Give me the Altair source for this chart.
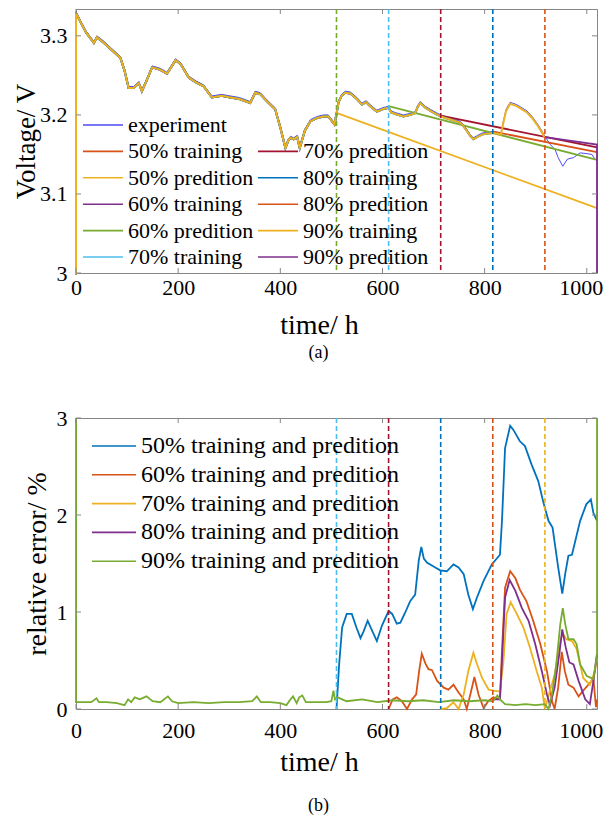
import altair as alt
import pandas as pd

FONT = "Liberation Serif, Times New Roman, serif"

# ---------------- data: panel (a) ----------------
exp_t = [0, 10, 20, 35, 41, 55, 70, 87, 95, 103,
         113, 123, 129, 138, 149, 165, 178, 187, 195, 205,
         221, 235, 250, 266, 285, 302, 320, 341, 351, 361,
         374, 390, 400, 410, 416, 420, 426, 433, 438, 448,
         459, 472, 485, 494, 506, 510, 514, 520, 527, 537,
         550, 560, 568, 576, 589, 600, 612, 617, 625, 641,
         655, 664, 669, 674, 684, 694, 705, 714, 723, 733,
         743, 752, 758, 765, 772, 778, 786, 795, 803, 816,
         826, 832, 836, 842, 850, 863, 873, 883, 893, 902,
         910, 918, 928, 938, 944, 953, 962, 974, 987, 1000,
         1010, 1016, 1020]
exp_v = [3.331, 3.318, 3.306, 3.293, 3.300, 3.293, 3.284, 3.274, 3.258, 3.236,
         3.236, 3.242, 3.232, 3.245, 3.262, 3.259, 3.254, 3.263, 3.271, 3.266,
         3.249, 3.243, 3.238, 3.224, 3.226, 3.224, 3.222, 3.217, 3.230, 3.228,
         3.219, 3.209, 3.186, 3.160, 3.170, 3.173, 3.171, 3.174, 3.160, 3.182,
         3.194, 3.198, 3.200, 3.200, 3.190, 3.203, 3.218, 3.226, 3.230, 3.229,
         3.222, 3.215, 3.218, 3.213, 3.206, 3.209, 3.211, 3.205, 3.203, 3.200,
         3.202, 3.204, 3.212, 3.217, 3.211, 3.207, 3.203, 3.200, 3.198, 3.196,
         3.194, 3.192, 3.188, 3.182, 3.175, 3.171, 3.174, 3.177, 3.178, 3.179,
         3.178, 3.177, 3.190, 3.207, 3.216, 3.213, 3.209, 3.205, 3.198, 3.190,
         3.182, 3.173, 3.163, 3.156, 3.146, 3.135, 3.144, 3.146, 3.152, 3.151,
         3.150, 3.144, 3.143]

pcts = ["50%", "60%", "70%", "80%", "90%"]
splits = [510, 612, 714, 816, 918]
t_end = 1020
train_first_v = 3.0
pred_start_v = [3.2025, 3.211, 3.199, 3.179, 3.172]
pred_end_v = [3.082, 3.143, 3.159, 3.153, 3.1625]
pred90_drop_v = 3.0

exp_color = "#4b4bf5"
train_colors = ["#D95319", "#7E2F8E", "#4DBEEE", "#0072BD", "#EDB120"]
pred_colors = ["#EDB120", "#77AC30", "#A2142F", "#D95319", "#7E2F8E"]
top_vline_colors = ["#77AC30", "#4DBEEE", "#A2142F", "#0072BD", "#D95319"]
bot_vline_colors = ["#4DBEEE", "#A2142F", "#0072BD", "#D95319", "#EDB120"]

# ---------------- data: panel (b) ----------------
b50_t = [510, 515, 521, 530, 540, 549, 557, 563, 571, 577,
         589, 599, 612, 619, 628, 635, 645, 654, 664, 671,
         676, 681, 687, 700, 713, 726, 739, 749, 759, 768,
         777, 785, 798, 814, 830, 834, 840, 850, 856, 869,
         879, 892, 905, 915, 925, 933, 944, 952, 958, 964,
         971, 987, 999, 1008, 1013, 1020]
b50_e = [0.0, 0.45, 0.84, 0.98, 0.98, 0.84, 0.73, 0.80, 0.91, 0.84,
         0.70, 0.86, 1.01, 0.98, 0.88, 0.89, 1.00, 1.11, 1.18, 1.53,
         1.67, 1.55, 1.51, 1.47, 1.43, 1.42, 1.49, 1.46, 1.39, 1.18,
         1.03, 1.15, 1.32, 1.49, 1.59, 1.94, 2.69, 2.92, 2.88, 2.76,
         2.71, 2.52, 2.35, 2.13, 1.94, 1.87, 1.46, 1.19, 1.40, 1.58,
         1.59, 1.94, 2.11, 2.16, 2.02, 1.94]
b60_t = [612, 620, 628, 638, 648, 658, 666, 672, 677, 684,
         690, 697, 707, 720, 729, 739, 749, 759, 765, 772,
         780, 788, 798, 807, 817, 830, 834, 840, 850, 860,
         869, 882, 895, 909, 922, 932, 937, 944, 951, 957,
         964, 974, 984, 993, 1003, 1013, 1018, 1020]
b60_e = [0.0, 0.10, 0.12, 0.08, 0.0, 0.10, 0.15, 0.40, 0.57, 0.47,
         0.41, 0.40, 0.29, 0.22, 0.20, 0.25, 0.17, 0.10, 0.0, 0.15,
         0.33, 0.15, 0.01, 0.08, 0.12, 0.10, 0.60, 1.25, 1.42, 1.35,
         1.23, 1.11, 0.91, 0.67, 0.39, 0.08, 0.0, 0.22, 0.59, 0.39,
         0.25, 0.22, 0.13, 0.19, 0.25, 0.31, 0.02, 0.10]
b70_t = [714, 726, 739, 749, 759, 768, 778, 784, 795, 808,
         817, 830, 837, 843, 851, 863, 876, 889, 902, 912,
         918, 928, 937, 948, 953, 960, 971, 980, 993, 1006,
         1016, 1020]
b70_e = [0.0, 0.01, 0.07, 0.0, 0.15, 0.39, 0.58, 0.48, 0.32, 0.20,
         0.19, 0.18, 0.50, 0.98, 1.10, 0.98, 0.84, 0.63, 0.39, 0.22,
         0.0, 0.19, 0.35, 0.70, 0.78, 0.72, 0.70, 0.62, 0.32, 0.25,
         0.39, 0.53]
b80_t = [816, 830, 834, 840, 849, 860, 873, 886, 899, 912,
         922, 928, 937, 947, 952, 959, 966, 974, 984, 997,
         1006, 1013, 1020]
b80_e = [0.10, 0.10, 0.50, 1.15, 1.33, 1.22, 1.04, 0.91, 0.67, 0.39,
         0.15, 0.04, 0.22, 0.60, 0.82, 0.63, 0.48, 0.46, 0.29, 0.10,
         0.05, 0.29, 0.57]
b90_t = [0, 0, 10, 30, 40, 45, 60, 80, 95, 102,
         108, 115, 125, 138, 150, 165, 180, 188, 200, 230,
         260, 290, 320, 345, 354, 362, 380, 400, 412, 420,
         425, 432, 437, 443, 450, 470, 490, 500, 504, 507,
         512, 530, 560, 590, 620, 650, 680, 710, 740, 770,
         800, 816, 825, 830, 840, 860, 880, 900, 918, 925,
         932, 940, 948, 953, 958, 964, 974, 980, 987, 1000,
         1013, 1020, 1020]
b90_e = [3.0, 0.07, 0.07, 0.07, 0.11, 0.07, 0.07, 0.06, 0.04, 0.10,
         0.07, 0.12, 0.10, 0.13, 0.08, 0.07, 0.13, 0.08, 0.06, 0.07,
         0.06, 0.07, 0.07, 0.08, 0.13, 0.07, 0.07, 0.06, 0.04, 0.10,
         0.13, 0.06, 0.12, 0.14, 0.07, 0.07, 0.07, 0.08, 0.19, 0.10,
         0.12, 0.08, 0.10, 0.07, 0.09, 0.08, 0.09, 0.07, 0.09, 0.08,
         0.09, 0.08, 0.14, 0.10, 0.05, 0.04, 0.05, 0.04, 0.05, 0.0,
         0.15, 0.45, 0.87, 1.04, 0.87, 0.72, 0.72, 0.67, 0.46, 0.34,
         0.31, 0.56, 3.0]
bot_series_t = [b50_t, b60_t, b70_t, b80_t, b90_t]
bot_series_e = [b50_e, b60_e, b70_e, b80_e, b90_e]
bot_names = [p + " training and predition" for p in pcts]
bot_colors = ["#0072BD", "#D95319", "#EDB120", "#7E2F8E", "#77AC30"]

x_ticks = [0, 200, 400, 600, 800, 1000]
top_y_ticks = [3.0, 3.1, 3.2, 3.3]
bot_y_ticks = [0, 1, 2, 3]

# ---------------- layout constants ----------------
W = 521
H_TOP = 264
H_BOT = 291
FRAME = "#868686"
TICK = 5


def sdf(ts, vs, name, col="v"):
    return pd.DataFrame({"t": ts, col: vs, "series": name, "i": list(range(len(ts)))})


x_scale = alt.Scale(domain=[0, t_end], nice=False, zero=False)


def x_enc(label_pad, title_y):
    return alt.X("t:Q", scale=x_scale,
                 axis=alt.Axis(values=x_ticks, format="d", title="time/ h", labelFlush=False,
                               labelPadding=label_pad, titleX=243, titleY=title_y,
                               titleBaseline="alphabetic",
                               labelOffset={"condition": {"test": "datum.value == 1000",
                                                          "value": -6},
                                            "value": 0}))


def tick_layers(xe, ye, yfield, ydf, h):
    xt = pd.DataFrame({"t": x_ticks})
    yt = pd.DataFrame({yfield: ydf})
    st = dict(color=FRAME, strokeWidth=1)
    return [
        alt.Chart(xt).mark_rule(**st).encode(x=xe, y=alt.value(h), y2=alt.value(h - TICK)),
        alt.Chart(xt).mark_rule(**st).encode(x=xe, y=alt.value(0), y2=alt.value(TICK)),
        alt.Chart(yt).mark_rule(**st).encode(y=ye, x=alt.value(0), x2=alt.value(TICK)),
        alt.Chart(yt).mark_rule(**st).encode(y=ye, x=alt.value(W), x2=alt.value(W - TICK)),
    ]


# ---------------- panel (a) ----------------
top_dom = ["experiment", "50% training", "50% predition", "60% training",
           "60% predition", "70% training",
           " ", "70% predition", "80% training", "80% predition",
           "90% training", "90% predition"]
top_rng = [exp_color, train_colors[0], pred_colors[0], train_colors[1],
           pred_colors[1], train_colors[2],
           "transparent", pred_colors[2], train_colors[3], pred_colors[3],
           train_colors[4], pred_colors[4]]

top_legend = alt.Legend(orient="none", legendX=13, legendY=102, columns=2, title=None,
                        symbolType="M-1.54,0H1.54", symbolSize=676, symbolStrokeWidth=1.6,
                        labelFont=FONT, labelFontSize=22, labelColor="black",
                        labelOffset=11, columnPadding=0, rowPadding=1.4, padding=0,
                        labelLimit=400)
col_top = alt.Color("series:N", scale=alt.Scale(domain=top_dom, range=top_rng), legend=top_legend)
xe_top = x_enc(4, 60)
ye_top = alt.Y("v:Q", scale=alt.Scale(domain=[3.0, 3.334], nice=False, zero=False),
               axis=alt.Axis(values=top_y_ticks, format="~g", title="Voltage/ V",
                             labelFlush=False, labelPadding=9, titleX=-42,
                             titleFontSize=27, titleBaseline="alphabetic"))

top_layers = [alt.Chart(sdf(exp_t, exp_v, "experiment")).mark_line(strokeWidth=1).encode(
    x=xe_top, y=ye_top, color=col_top, order="i:Q")]
for k, p in enumerate(pcts):
    tr_t = [0] + [t for t in exp_t if t <= splits[k]]
    tr_v = [train_first_v] + [v for t, v in zip(exp_t, exp_v) if t <= splits[k]]
    top_layers.append(
        alt.Chart(sdf(tr_t, tr_v, p + " training")).mark_line(strokeWidth=2, yOffset=1.5).encode(
            x=xe_top, y=ye_top, color=col_top, order="i:Q"))
    pr_t = [splits[k], t_end]
    pr_v = [pred_start_v[k], pred_end_v[k]]
    if k == 4:
        pr_t.append(t_end)
        pr_v.append(pred90_drop_v)
    top_layers.append(
        alt.Chart(sdf(pr_t, pr_v, p + " predition")).mark_line(strokeWidth=1.8).encode(
            x=xe_top, y=ye_top, color=col_top, order="i:Q"))

top_layers.append(
    alt.Chart(pd.DataFrame({"t": splits, "c": top_vline_colors})).mark_rule(
        strokeDash=[5, 3], strokeWidth=1.6).encode(x=xe_top, stroke=alt.Stroke("c:N", scale=None)))
top_layers += tick_layers(xe_top, ye_top, "v", top_y_ticks, H_TOP)

top = alt.layer(*top_layers).properties(
    width=W, height=H_TOP,
    title=alt.TitleParams("(a)", orient="bottom", anchor="middle", frame="group",
                          dx=-18, offset=5))

# ---------------- panel (b) ----------------
bot_legend = alt.Legend(orient="none", legendX=23, legendY=13, columns=1, title=None,
                        symbolType="M-1.571,0H1.571", symbolSize=784, symbolStrokeWidth=1.6,
                        labelFont=FONT, labelFontSize=24, labelColor="black",
                        labelOffset=12, rowPadding=1.8, padding=0, labelLimit=500)
col_bot = alt.Color("series:N", scale=alt.Scale(domain=bot_names, range=bot_colors),
                    legend=bot_legend)
xe_bot = x_enc(11, 61)
ye_bot = alt.Y("e:Q", scale=alt.Scale(domain=[0, 3], nice=False, zero=False),
               axis=alt.Axis(values=bot_y_ticks, format="d", title="relative error/ %",
                             labelFlush=False, labelPadding=9, titleX=-31,
                             titleBaseline="alphabetic"))

bot_layers = []
for k in range(5):
    bot_layers.append(
        alt.Chart(sdf(bot_series_t[k], bot_series_e[k], bot_names[k], "e")).mark_line(
            strokeWidth=1.8).encode(x=xe_bot, y=ye_bot, color=col_bot, order="i:Q"))
bot_layers.append(
    alt.Chart(pd.DataFrame({"t": splits, "c": bot_vline_colors})).mark_rule(
        strokeDash=[5, 3], strokeWidth=1.6).encode(x=xe_bot, stroke=alt.Stroke("c:N", scale=None)))
bot_layers += tick_layers(xe_bot, ye_bot, "e", bot_y_ticks, H_BOT)

bottom = alt.layer(*bot_layers).properties(
    width=W, height=H_BOT,
    title=alt.TitleParams("(b)", orient="bottom", anchor="middle", frame="group",
                          dx=-18, offset=21))

chart = alt.vconcat(top, bottom, spacing=145, bounds="flush").resolve_scale(
    color="independent", x="independent", y="independent", stroke="independent"
).resolve_legend(color="independent").configure_view(
    stroke=FRAME, strokeWidth=1
).configure_axis(
    labelFont=FONT, titleFont=FONT, labelFontSize=22, titleFontSize=28,
    labelColor="black", titleColor="black", titleFontWeight="normal",
    domain=False, ticks=False, tickSize=0, grid=False
).configure_title(
    font=FONT, fontSize=18, fontWeight="normal", color="black"
).properties(padding={"left": 3, "top": -1, "right": 0, "bottom": 0})

chart.save("out.html", embed_options={"renderer": "svg", "actions": False})
